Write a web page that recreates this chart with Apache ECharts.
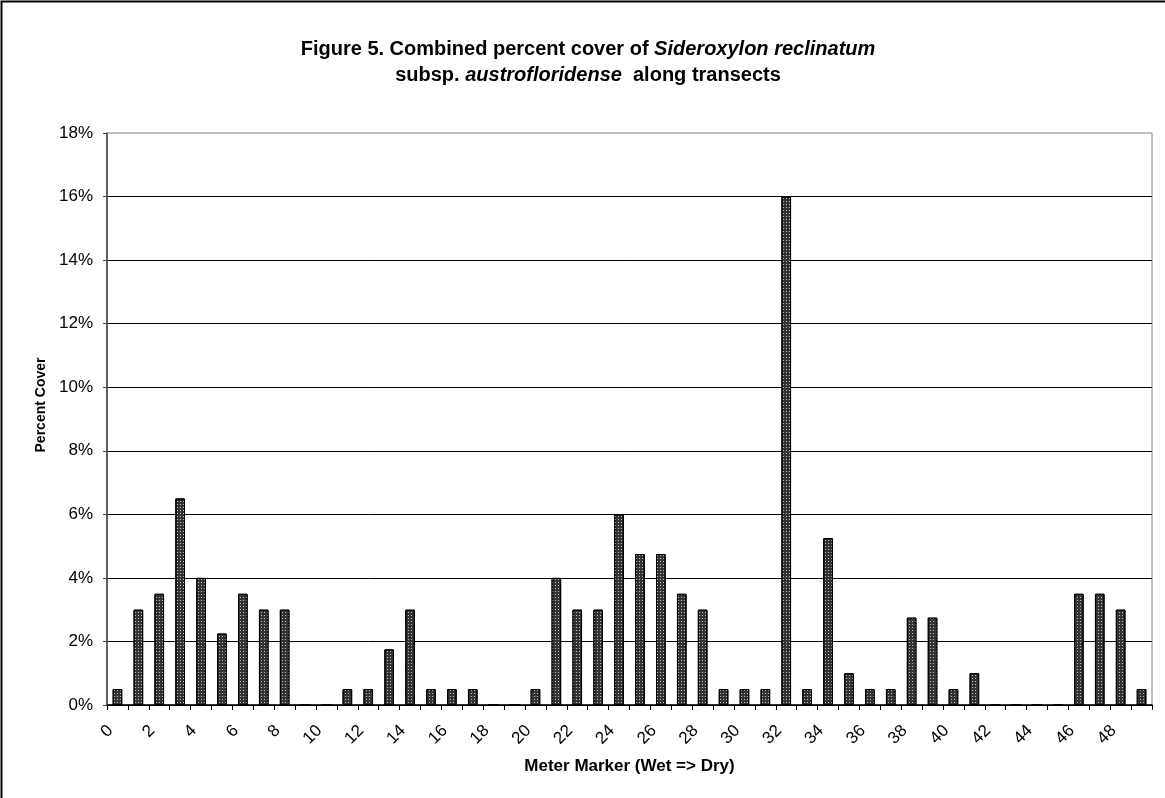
<!DOCTYPE html>
<html>
<head>
<meta charset="utf-8">
<script src="https://cdn.jsdelivr.net/npm/echarts@6/dist/echarts.min.js"></script>
<style>
html,body{margin:0;padding:0;background:#fff;}
#chart{width:1165px;height:798px;}
</style>
</head>
<body>
<div id="chart"></div>
<script>
// Meter markers (categories)
const meterMarkers = ['0','1','2','3','4','5','6','7','8','9',
  '10','11','12','13','14','15','16','17','18','19',
  '20','21','22','23','24','25','26','27','28','29',
  '30','31','32','33','34','35','36','37','38','39',
  '40','41','42','43','44','45','46','47','48','49'];
// Combined percent cover (%)
const percentCover = [0.5,3,3.5,6.5,4,2.25,3.5,3,3,0,
  0,0.5,0.5,1.75,3,0.5,0.5,0.5,0,0,
  0.5,4,3,3,6,4.75,4.75,3.5,3,0.5,
  0.5,0.5,16,0.5,5.25,1,0.5,0.5,2.75,2.75,
  0.5,1,0,0,0,0,3.5,3.5,3,0.5];
const yMin = 0, yMax = 18, yStep = 2;

const FONT = '"Liberation Sans", Arial, sans-serif';
const chart = echarts.init(document.getElementById('chart'), null, {renderer:'canvas'});
chart.setOption({
  backgroundColor: '#ffffff',
  animation: false,
  title: {
    text: '{b|Figure 5. Combined percent cover of }{bi|Sideroxylon reclinatum}\n{b|subsp. }{bi|austrofloridense}{b|  along transects}',
    left: 583,
    top: 31,
    textAlign: 'center',
    textStyle: {
      fontFamily: FONT,
      lineHeight: 26,
      rich: {
        b: {fontFamily: FONT, fontSize: 20, fontWeight: 'bold', color: '#000', lineHeight: 26},
        bi: {fontFamily: FONT, fontSize: 20, fontWeight: 'bold', fontStyle: 'italic', color: '#000', lineHeight: 26}
      }
    }
  },
  graphic: [{
    type: 'rect',
    shape: {x: 1.5, y: 1.5, width: 1200, height: 850},
    style: {fill: 'none', stroke: '#000', lineWidth: 2},
    silent: true
  }],
  grid: {left: 107, right: 13, top: 133, bottom: 93, show: true, borderColor: '#808080', borderWidth: 1, backgroundColor: 'transparent'},
  xAxis: {
    type: 'category',
    data: meterMarkers,
    boundaryGap: true,
    name: 'Meter Marker (Wet => Dry)',
    nameLocation: 'middle',
    nameGap: 53,
    nameTextStyle: {fontFamily: FONT, fontSize: 17, fontWeight: 'bold', color: '#000'},
    axisLine: {show: true, lineStyle: {color: '#000', width: 1.5}},
    axisTick: {show: true, interval: 0, length: 5, inside: false, lineStyle: {color: '#000'}},
    axisLabel: {
      interval: 1,
      rotate: 45,
      margin: 16,
      padding: [0, 10, 0, 0],
      fontFamily: FONT,
      fontSize: 17,
      color: '#000'
    },
    splitLine: {show: false}
  },
  yAxis: {
    type: 'value',
    min: yMin,
    max: yMax,
    interval: yStep,
    name: 'Percent Cover',
    nameLocation: 'middle',
    nameGap: 57,
    nameTextStyle: {fontFamily: FONT, fontSize: 14, fontWeight: 'bold', color: '#000', padding: [0, 0, 0, 28]},
    axisLine: {show: true, lineStyle: {color: '#444', width: 1.5}},
    axisTick: {show: true, length: 4, lineStyle: {color: '#444'}},
    axisLabel: {
      formatter: v => v + '%',
      margin: 14,
      fontFamily: FONT,
      fontSize: 17,
      color: '#000'
    },
    splitLine: {show: true, showMaxLine: false, lineStyle: {color: '#000', width: 1}}
  },
  series: [{
    type: 'bar',
    data: percentCover,
    barWidth: '46%',
    itemStyle: {
      color: '#333333',
      borderColor: '#000',
      borderWidth: 1,
      decal: {
        symbol: 'rect',
        symbolSize: 1,
        color: '#bdbdbd',
        dashArrayX: [1, 2],
        dashArrayY: [1, 2],
        rotation: 0
      }
    }
  }]
});
</script>
</body>
</html>
